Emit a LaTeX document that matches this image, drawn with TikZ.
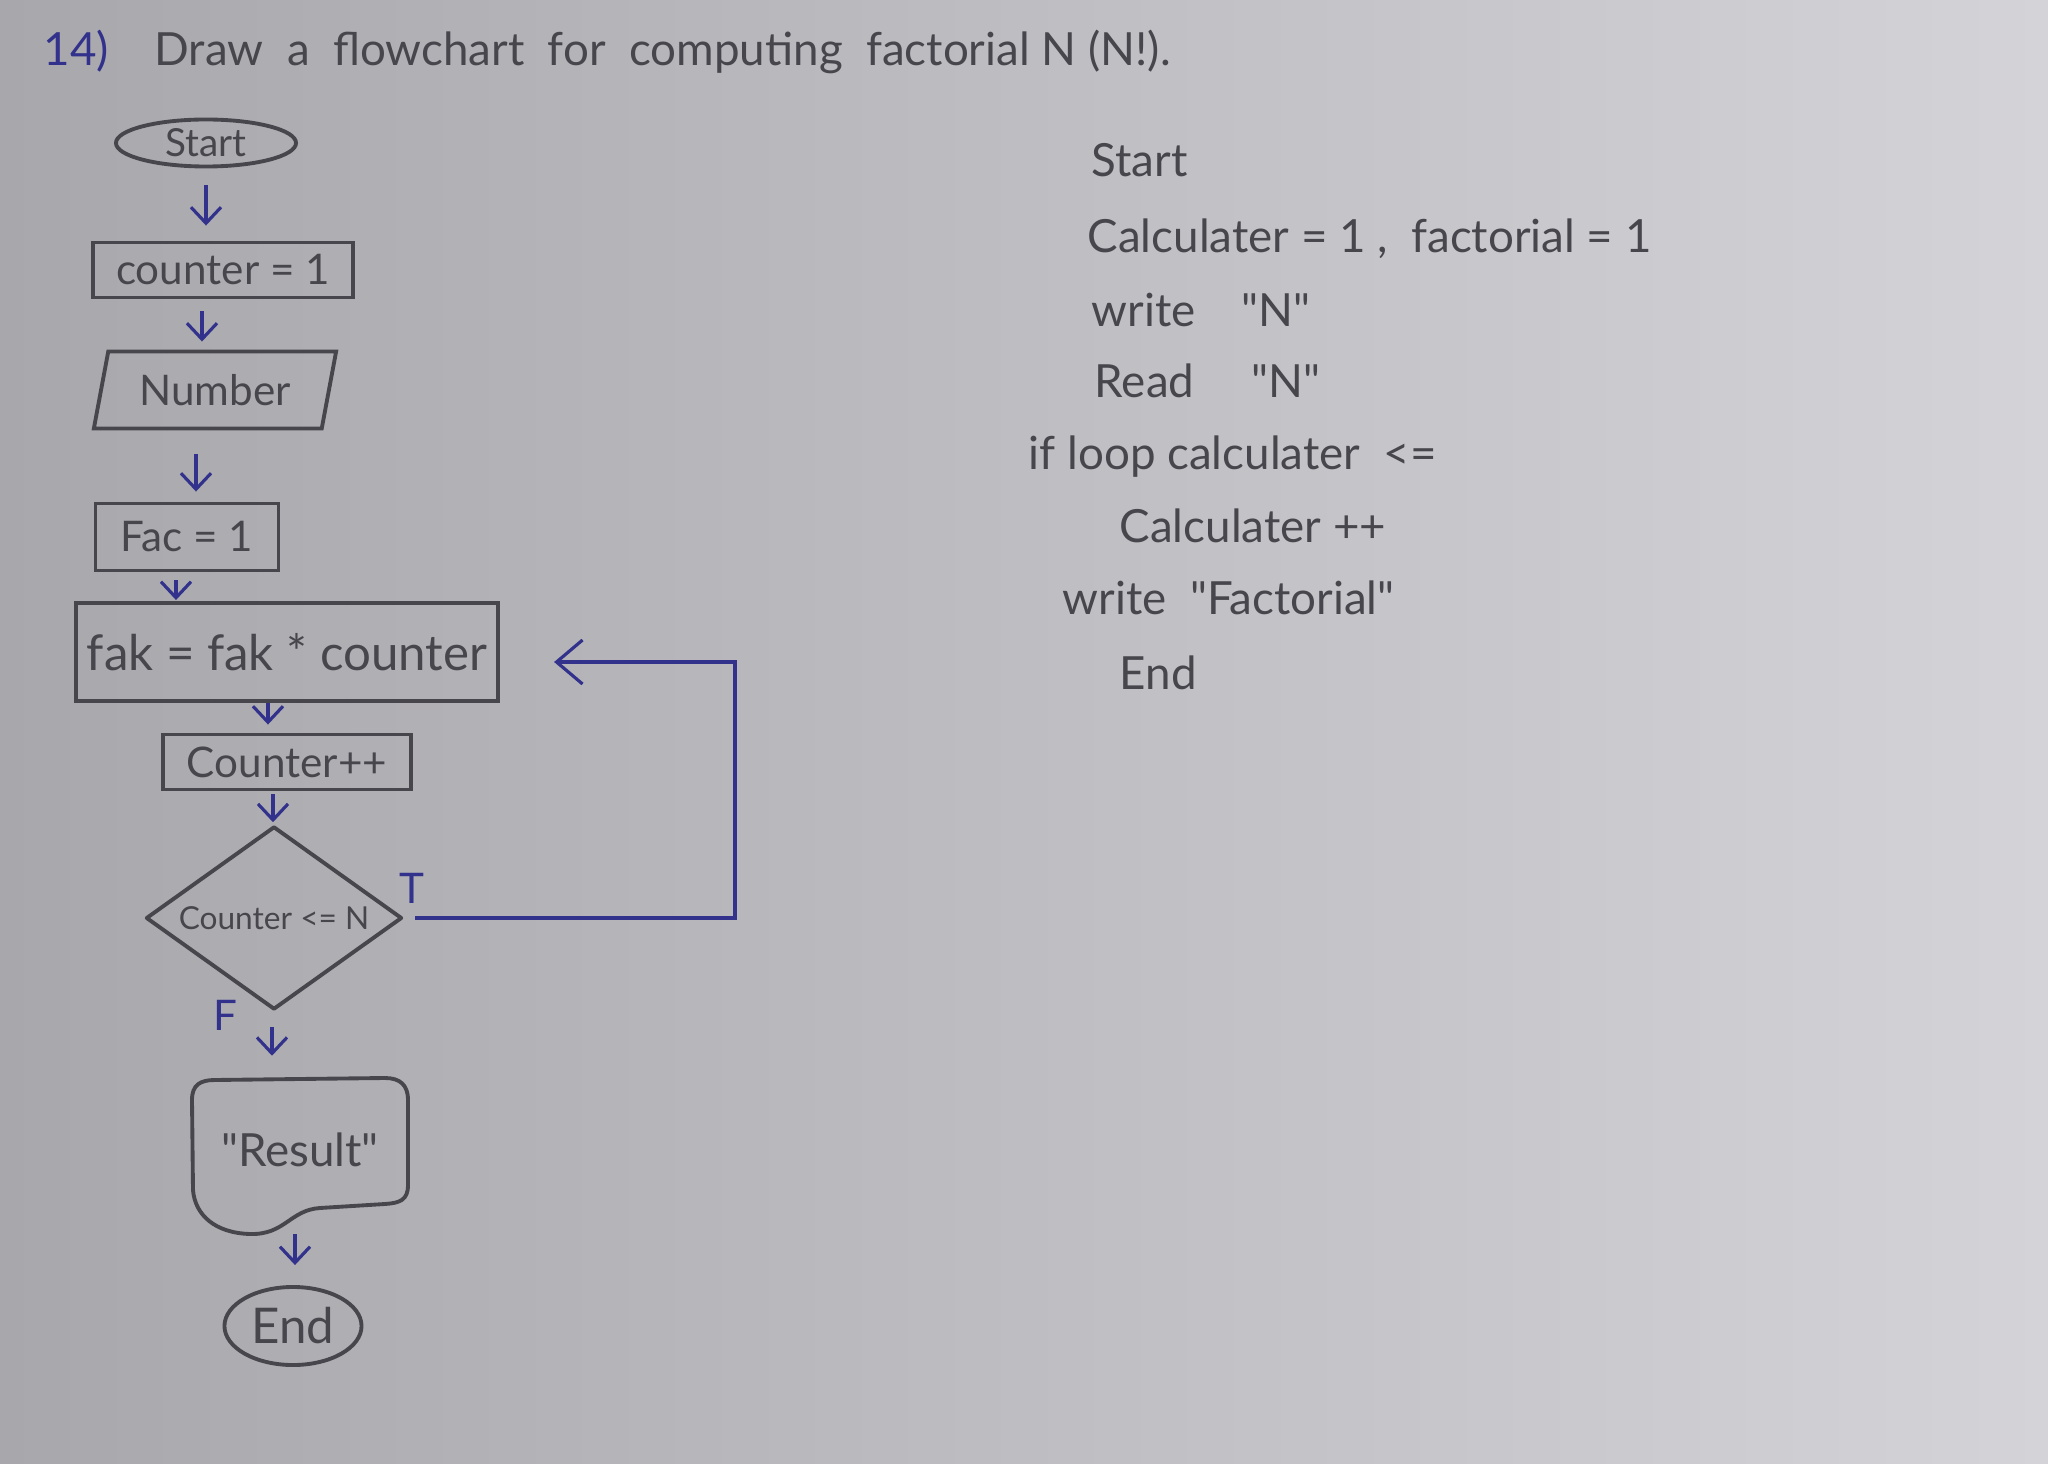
\documentclass[tikz,border=0pt]{standalone}
\usepackage{fontspec}
\setmainfont{Lato}[Ligatures=TeXOff]
\usetikzlibrary{shapes.geometric,arrows.meta}
\definecolor{pencil}{RGB}{70,70,76}
\definecolor{ink}{RGB}{50,50,140}
\definecolor{paperL}{RGB}{168,168,172}
\definecolor{paperR}{RGB}{212,212,216}
\begin{document}
\begin{tikzpicture}[x=0.01cm,y=-0.01cm,
  box/.style={draw=pencil,line width=1.1pt,text=pencil,inner sep=0pt,font=\fontsize{12}{14}\selectfont},
  term/.style={box,ellipse},
  proc/.style={box,rectangle},
  io/.style={box,trapezium,trapezium left angle=72,trapezium right angle=108,trapezium stretches=true},
  decbox/.style={text=pencil,inner sep=0pt,font=\fontsize{9}{11}\selectfont},
  outline/.style={draw=pencil,line width=1.1pt,line join=round},
  flow/.style={draw=ink,line width=0.9pt,-{Straight Barb[length=1.6mm,width=3mm]}},
  loopflow/.style={draw=ink,line width=0.9pt,-{Straight Barb[length=2.6mm,width=4.4mm]}},
  lab/.style={text=ink,inner sep=0pt,font=\fontsize{12}{14}\selectfont},
  code/.style={anchor=west,text=pencil,inner sep=0pt,font=\fontsize{13}{15}\selectfont}]
\useasboundingbox (0,0) rectangle (2048,1464);
\shade[left color=paperL,right color=paperR] (0,0) rectangle (2048,1464);

% title
\node[anchor=west,text=pencil,inner sep=0pt,font=\fontsize{13}{15}\selectfont] (title) at (43,52)
  {\textcolor{ink}{14)}\quad Draw\ \ a\ \ flowchart\ \ for\ \ computing\ \ factorial N (N!).};

% flowchart nodes
\node[term,minimum width=1.8cm,minimum height=0.47cm,font=\fontsize{11}{13}\selectfont] (start) at (206,143) {Start};
\node[proc,minimum width=2.6cm,minimum height=0.55cm] (c1) at (223,270) {counter = 1};
\node[io,minimum width=2.43cm,minimum height=0.77cm] (num) at (215,390) {Number};
\node[proc,minimum width=1.83cm,minimum height=0.67cm] (fac1) at (187,537) {Fac = 1};
\node[proc,minimum width=4.22cm,minimum height=0.98cm,font=\fontsize{14}{16}\selectfont] (fak) at (287,652) {fak = fak * counter};
\node[proc,minimum width=2.48cm,minimum height=0.55cm] (cpp) at (287,762) {Counter++};
\node[decbox,minimum width=2.53cm,minimum height=1.8cm] (dec) at (274,918) {Counter <= N};
\draw[outline] (dec.north) -- (dec.east) -- (dec.south) -- (dec.west) -- cycle;
\node[text=pencil,inner sep=0pt,minimum width=2.16cm,minimum height=1.55cm,font=\fontsize{13}{15}\selectfont] (res) at (300,1150) {"Result"};
\node[term,minimum width=1.37cm,minimum height=0.78cm,font=\fontsize{14}{16}\selectfont] (end) at (293,1326) {End};

% display shape outline
\draw[outline]
  (408,1185) .. controls (408,1200) and (400,1203) .. (385,1204)
  -- (320,1208) .. controls (290,1210) and (285,1235) .. (250,1234)
  .. controls (215,1233) and (195,1215) .. (193,1190)
  -- (192,1100) .. controls (192,1085) and (200,1080) .. (215,1080)
  -- (385,1078) .. controls (400,1078) and (408,1085) .. (408,1100) -- cycle;

% connectors
\draw[flow,shorten <=0.17cm,shorten >=0.15cm] (start.south) -- (start.south |- c1.north);
\draw[flow,shorten <=0.12cm,shorten >=0.08cm] ([xshift=-0.21cm]c1.south) -- ([xshift=-0.21cm]c1.south |- num.north);
\draw[flow,shorten <=0.24cm,shorten >=0.10cm] ([xshift=-0.19cm]num.south) -- ([xshift=-0.19cm]num.south |- fac1.north);
\draw[flow,shorten <=0.08cm,shorten >=0.01cm] ([xshift=-0.11cm]fac1.south) -- ([xshift=-0.11cm]fac1.south |- fak.north);
\draw[flow,shorten <=0.00cm,shorten >=0.08cm] ([xshift=-0.19cm]fak.south) -- ([xshift=-0.19cm]fak.south |- cpp.north);
\draw[flow,shorten <=0.03cm,shorten >=0.05cm] ([xshift=-0.14cm]cpp.south) -- ([xshift=-0.14cm]cpp.south |- dec.north);
\draw[flow,shorten <=0.18cm,shorten >=0.16cm] ([xshift=-0.02cm]dec.south) -- ([xshift=-0.02cm]dec.south |- res.north);
\draw[flow,shorten <=0.06cm,shorten >=0.20cm] ([xshift=-0.05cm]res.south) -- ([xshift=-0.05cm]res.south |- end.north);

\coordinate (loopc) at (735,780);
\draw[loopflow,shorten <=0.14cm,shorten >=0.54cm] (dec.east) -| (loopc) |- ([yshift=-0.1cm]fak.east);

\node[lab] (tl) at (412,888) {T};
\node[lab] (fl) at (225,1015) {F};

% pseudo-code
\node[code] (p1) at (1091,160) {Start};
\node[code] (p2) at (1087,239) {Calculater = 1 ,\ \ factorial = 1};
\node[code] (p3) at (1091,310) {write\quad "N"};
\node[code] (p4) at (1094,381) {Read\quad\ "N"};
\node[code] (p5) at (1028,457) {if loop calculater\ \ <=};
\node[code] (p6) at (1119,526) {Calculater ++};
\node[code] (p7) at (1062,598) {write\ \ "Factorial"};
\node[code] (p8) at (1119,673) {End};
\end{tikzpicture}
\end{document}
